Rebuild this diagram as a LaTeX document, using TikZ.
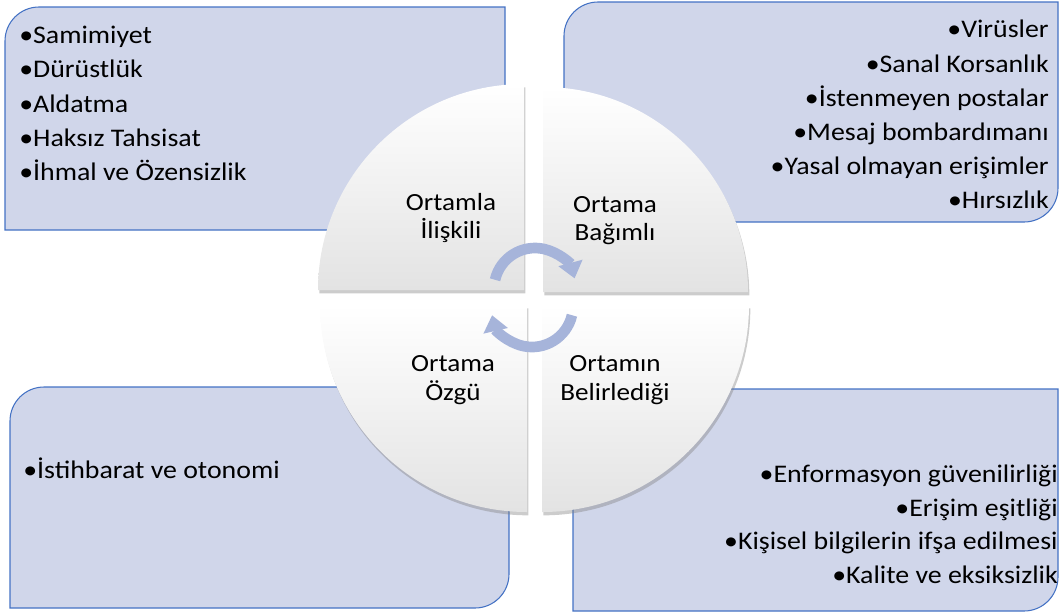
\documentclass[tikz,border=0pt]{standalone}
\usepackage{fontspec}
\setmainfont{Carlito}[FakeStretch=1.1]
\usepackage{tikz}
\usetikzlibrary{arrows.meta, shadows}
\definecolor{panelfill}{RGB}{208,214,234}
\definecolor{panelline}{RGB}{68,114,196}
\definecolor{cycarrow}{RGB}{166,180,218}

\begin{document}
\begin{tikzpicture}[x=0.75pt, y=-0.75pt,
  panel/.style={fill=panelfill, draw=panelline, line width=0.8pt},
  quad/.style={top color=white, bottom color=black!11,
    drop shadow={shadow xshift=1pt, shadow yshift=-2.5pt, opacity=0.4}},
  cyc/.style={draw=cycarrow, line width=8pt, -{Triangle[width=18pt, length=12pt]}},
  item/.style={font=\fontsize{19}{23}\selectfont, inner sep=0pt},
  lbl/.style={font=\fontsize{18.5}{23}\selectfont, inner sep=0pt, anchor=base}]
\useasboundingbox (0,0) rectangle (1061,612);
%
% four panels
\draw[panel] (5,230) -- (5,41) arc(180:270:34) -- (505,7) -- (505,196) arc(0:90:34) -- cycle;
\draw[panel] (564,222) -- (564,36) arc(180:270:34) -- (1058,2) -- (1058,188) arc(0:90:34) -- cycle;
\draw[panel] (10,608) -- (10,421) arc(180:270:34) -- (509,387) -- (509,574) arc(0:90:34) -- cycle;
\draw[panel] (573,611) -- (573,423) arc(180:270:34) -- (1058,389) -- (1058,577) arc(0:90:34) -- cycle;
%
% the circle in four pieces
\path[quad] (524,290) -- (318,290) arc(180:270:206) -- cycle;
\path[quad] (543,292) -- (543,87) arc(270:360:205) -- cycle;
\path[quad] (527,305) -- (527,512) arc(90:180:207) -- cycle;
\path[quad] (542,305) -- (749,305) arc(0:90:207) -- cycle;
%
% cycle arrows
\draw[cyc] (535,289) ++(193:41) arc(193:345:41);
\draw[cyc] (532,306) ++(13:41) arc(13:167:41);
%
\node[lbl] (q1a) at (451,210) {Ortamla};
\node[lbl] (q1b) at (451,238) {İlişkili};
\node[lbl] (q2a) at (615,212) {Ortama};
\node[lbl] (q2b) at (615,240) {Bağımlı};
\node[lbl] (q3a) at (453,371) {Ortama};
\node[lbl] (q3b) at (453,400) {Özgü};
\node[lbl] (q4a) at (615,371) {Ortamın};
\node[lbl] (q4b) at (615,400) {Belirlediği};
%
\node[item, anchor=base west] (tl1) at (19,43) {•Samimiyet};
\node[item, anchor=base west] (tl2) at (19,77) {•Dürüstlük};
\node[item, anchor=base west] (tl3) at (19,112) {•Aldatma};
\node[item, anchor=base west] (tl4) at (19,146) {•Haksız Tahsisat};
\node[item, anchor=base west] (tl5) at (19,180) {•İhmal ve Özensizlik};
%
\node[item, anchor=base east] (tr1) at (1049,37) {•Virüsler};
\node[item, anchor=base east] (tr2) at (1049,72) {•Sanal Korsanlık};
\node[item, anchor=base east] (tr3) at (1049,106) {•İstenmeyen postalar};
\node[item, anchor=base east] (tr4) at (1049,140) {•Mesaj bombardımanı};
\node[item, anchor=base east] (tr5) at (1049,174) {•Yasal olmayan erişimler};
\node[item, anchor=base east] (tr6) at (1049,208) {•Hırsızlık};
%
\node[item, anchor=base west] (bl1) at (23,478) {•İstihbarat ve otonomi};
%
\node[item, anchor=base east] (br1) at (1058,482) {•Enformasyon güvenilirliği};
\node[item, anchor=base east] (br2) at (1058,516) {•Erişim eşitliği};
\node[item, anchor=base east] (br3) at (1058,549) {•Kişisel bilgilerin ifşa edilmesi};
\node[item, anchor=base east] (br4) at (1058,583) {•Kalite ve eksiksizlik};
\end{tikzpicture}
\end{document}
